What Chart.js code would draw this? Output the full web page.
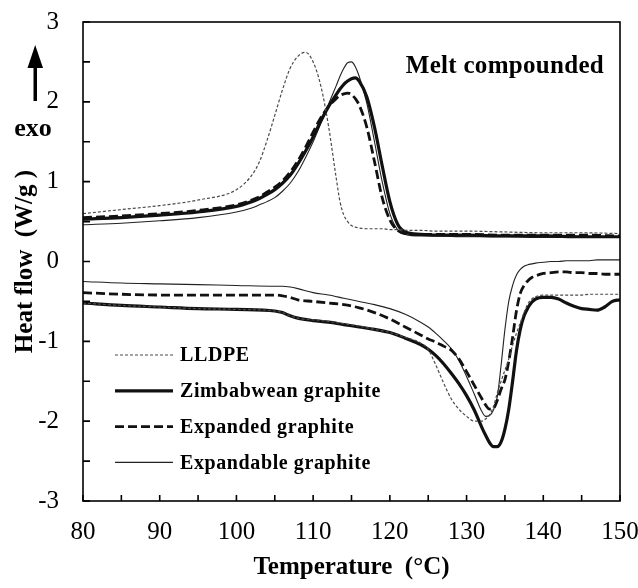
<!DOCTYPE html>
<html>
<head>
<meta charset="utf-8">
<script src="https://cdn.jsdelivr.net/npm/chart.js@4.4.1/dist/chart.umd.min.js"></script>
<style>
body{margin:0;background:#fff;}
#wrap{width:638px;height:588px;}
</style>
</head>
<body>
<div id="wrap"><canvas id="dsc" width="638" height="588"></canvas></div>
<script>
const names = ['LLDPE', 'Zimbabwean graphite', 'Expanded graphite', 'Expandable graphite'];

// cooling run (crystallisation, upper curves)
const tempCool = [80, 85, 90, 95, 100, 102, 103, 104, 105, 106, 107, 108, 109, 110, 111, 112, 113, 113.5, 114, 114.5, 115, 115.5, 116, 117, 118, 119, 120, 121, 122, 124, 126, 130, 135, 140, 145, 150];
const coolLLDPE = [0.60, 0.65, 0.70, 0.77, 0.90, 1.08, 1.25, 1.52, 1.83, 2.15, 2.42, 2.57, 2.62, 2.50, 2.20, 1.70, 1.05, 0.75, 0.58, 0.50, 0.45, 0.43, 0.42, 0.41, 0.41, 0.41, 0.40, 0.40, 0.39, 0.39, 0.38, 0.38, 0.37, 0.36, 0.36, 0.35];
const coolZimb = [0.53, 0.55, 0.58, 0.62, 0.69, 0.75, 0.79, 0.84, 0.90, 0.98, 1.08, 1.22, 1.38, 1.56, 1.76, 1.94, 2.09, 2.16, 2.22, 2.26, 2.29, 2.30, 2.26, 2.06, 1.68, 1.20, 0.75, 0.47, 0.37, 0.34, 0.33, 0.33, 0.32, 0.32, 0.31, 0.31];
const coolExpanded = [0.55, 0.57, 0.60, 0.64, 0.71, 0.77, 0.81, 0.87, 0.93, 1.01, 1.12, 1.26, 1.43, 1.62, 1.80, 1.94, 2.04, 2.08, 2.10, 2.11, 2.09, 2.04, 1.96, 1.68, 1.25, 0.80, 0.52, 0.39, 0.35, 0.34, 0.34, 0.34, 0.33, 0.33, 0.33, 0.32];
const coolExpandable = [0.46, 0.48, 0.51, 0.55, 0.62, 0.67, 0.71, 0.75, 0.80, 0.88, 0.98, 1.12, 1.30, 1.50, 1.73, 1.97, 2.20, 2.32, 2.42, 2.49, 2.50, 2.44, 2.32, 1.98, 1.50, 1.00, 0.60, 0.40, 0.34, 0.32, 0.32, 0.31, 0.31, 0.30, 0.30, 0.30];

// heating run (melting, lower curves)
const tempHeat = [80, 85, 90, 95, 100, 105, 106, 107, 108, 110, 112, 114, 116, 118, 120, 122, 124, 125, 126, 127, 128, 129, 130, 131, 132, 132.5, 133, 133.5, 134, 134.5, 135, 135.5, 136, 136.5, 137, 137.5, 138, 138.5, 139, 140, 141, 142, 143, 144, 145, 146, 147, 148, 149, 150];
const heatLLDPE = [-0.52, -0.55, -0.57, -0.59, -0.60, -0.62, -0.64, -0.68, -0.71, -0.73, -0.75, -0.78, -0.81, -0.85, -0.89, -0.95, -1.02, -1.10, -1.30, -1.52, -1.72, -1.85, -1.94, -2.00, -2.00, -1.97, -1.92, -1.82, -1.65, -1.50, -1.36, -1.22, -1.05, -0.90, -0.77, -0.64, -0.53, -0.47, -0.44, -0.42, -0.42, -0.42, -0.42, -0.42, -0.42, -0.41, -0.41, -0.41, -0.41, -0.41];
const heatZimb = [-0.52, -0.55, -0.57, -0.59, -0.60, -0.62, -0.64, -0.68, -0.71, -0.74, -0.76, -0.79, -0.82, -0.85, -0.89, -0.96, -1.04, -1.10, -1.18, -1.28, -1.40, -1.53, -1.68, -1.86, -2.08, -2.18, -2.27, -2.32, -2.32, -2.26, -2.10, -1.85, -1.50, -1.12, -0.85, -0.68, -0.58, -0.51, -0.47, -0.45, -0.45, -0.47, -0.52, -0.56, -0.59, -0.60, -0.61, -0.57, -0.50, -0.48];
const heatExpanded = [-0.39, -0.41, -0.42, -0.42, -0.42, -0.42, -0.43, -0.45, -0.48, -0.50, -0.52, -0.54, -0.58, -0.64, -0.72, -0.82, -0.92, -0.97, -1.01, -1.06, -1.11, -1.22, -1.38, -1.55, -1.72, -1.80, -1.85, -1.84, -1.74, -1.60, -1.48, -1.25, -0.95, -0.62, -0.40, -0.30, -0.24, -0.20, -0.18, -0.15, -0.14, -0.13, -0.13, -0.14, -0.14, -0.15, -0.15, -0.16, -0.16, -0.16];
const heatExpandable = [-0.25, -0.27, -0.28, -0.29, -0.30, -0.31, -0.31, -0.32, -0.34, -0.39, -0.42, -0.46, -0.50, -0.54, -0.59, -0.66, -0.76, -0.82, -0.90, -0.99, -1.09, -1.24, -1.44, -1.66, -1.88, -1.94, -1.93, -1.86, -1.70, -1.30, -0.85, -0.50, -0.30, -0.17, -0.10, -0.06, -0.04, -0.03, -0.02, -0.01, 0.00, 0.00, 0.01, 0.01, 0.01, 0.01, 0.02, 0.02, 0.02, 0.02];

const coolRuns = [coolLLDPE, coolZimb, coolExpanded, coolExpandable];
const heatRuns = [heatLLDPE, heatZimb, heatExpanded, heatExpandable];

// line look per material: LLDPE dotted, Zimbabwean thick, expanded thick dashed, expandable thin
const looks = [
    {color: '#4a4a4a', width: 1.2, dash: [3, 2]},
    {color: '#111111', width: 3.2, dash: []},
    {color: '#111111', width: 2.8, dash: [9, 4]},
    {color: '#222222', width: 1.1, dash: []}
];

const serif = "'Liberation Serif', 'Times New Roman', serif";

function makeSet(label, temps, vals, look){
    return {
        label: label,
        data: temps.map((t, k) => ({x: t, y: vals[k]})),
        borderColor: look.color,
        borderWidth: look.width,
        borderDash: look.dash,
        pointRadius: 0,
        fill: false,
        cubicInterpolationMode: 'monotone'
    };
}

let datasets = [];
names.forEach((n, i) => {
    datasets.push(makeSet(n, tempCool, coolRuns[i], looks[i]));
    datasets.push(makeSet(n, tempHeat, heatRuns[i], looks[i]));
});

// chart.js adds the tick padding to the layout padding, drop it
function noScalePad(s){
    s.paddingTop = 0;
    s.paddingBottom = 0;
    s.paddingLeft = 0;
    s.paddingRight = 0;
}

const decor = {
    id: 'decor',
    afterDatasetsDraw(chart){
        const {ctx, chartArea: a, scales} = chart;
        ctx.save();
        ctx.setLineDash([]);
        ctx.strokeStyle = '#000';
        ctx.lineWidth = 1.6;
        ctx.strokeRect(a.left, a.top, a.right - a.left, a.bottom - a.top);

        // ticks point inwards
        ctx.beginPath();
        scales.x.ticks.forEach(t => {
            let px = scales.x.getPixelForValue(t.value);
            ctx.moveTo(px, a.bottom);
            ctx.lineTo(px, a.bottom - 6);
        });
        scales.y.ticks.forEach(t => {
            let py = scales.y.getPixelForValue(t.value);
            ctx.moveTo(a.left, py);
            ctx.lineTo(a.left + 7, py);
        });
        ctx.stroke();

        // legend inside the plot
        ctx.font = 'bold 20px ' + serif;
        ctx.letterSpacing = '0.6px';
        ctx.fillStyle = '#000';
        ctx.textBaseline = 'middle';
        names.forEach((n, i) => {
            let ly = 355 + i * 35.8;
            ctx.strokeStyle = looks[i].color;
            ctx.lineWidth = looks[i].width;
            ctx.setLineDash(looks[i].dash);
            ctx.beginPath();
            ctx.moveTo(115, ly);
            ctx.lineTo(173, ly);
            ctx.stroke();
            ctx.fillText(n, 180, ly + 1);
        });
        ctx.setLineDash([]);

        ctx.font = 'bold 25px ' + serif;
        ctx.letterSpacing = '0.3px';
        ctx.textAlign = 'right';
        ctx.textBaseline = 'alphabetic';
        ctx.fillText('Melt compounded', 604, 73);

        // exo arrow
        ctx.letterSpacing = '0px';
        ctx.fillStyle = '#000';
        ctx.fillRect(33.5, 64, 3.5, 37);
        ctx.beginPath();
        ctx.moveTo(35.2, 45);
        ctx.lineTo(43, 68);
        ctx.lineTo(27.5, 68);
        ctx.closePath();
        ctx.fill();
        ctx.font = 'bold 26px ' + serif;
        ctx.textAlign = 'center';
        ctx.fillText('exo', 33, 136);
        ctx.restore();
    }
};

new Chart(document.getElementById('dsc'), {
    type: 'line',
    data: {datasets: datasets},
    options: {
        responsive: false,
        animation: false,
        devicePixelRatio: 1,
        layout: {padding: {top: 22, right: 18, left: 0, bottom: 0}},
        plugins: {legend: {display: false}, tooltip: {enabled: false}},
        scales: {
            x: {
                type: 'linear',
                min: 80, max: 150,
                grid: {display: false, drawTicks: false},
                border: {display: false},
                ticks: {
                    stepSize: 5,
                    padding: 16,
                    color: '#000',
                    font: {family: serif, size: 25},
                    maxRotation: 0,
                    autoSkip: false,
                    callback: v => v % 10 === 0 ? String(v) : ''
                },
                title: {display: true, text: 'Temperature  (°C)', color: '#000', font: {family: serif, size: 25, weight: 'bold'}, padding: {bottom: 5}},
                afterFit: s => { s.height = 87; noScalePad(s); }
            },
            y: {
                min: -3, max: 3,
                grid: {display: false, drawTicks: false},
                border: {display: false},
                ticks: {
                    stepSize: 0.5,
                    padding: 24,
                    color: '#000',
                    font: {family: serif, size: 25},
                    autoSkip: false,
                    callback: v => Number.isInteger(v) ? String(v) : ''
                },
                title: {display: true, text: 'Heat flow  (W/g )', color: '#000', font: {family: serif, size: 25, weight: 'bold'}, padding: {top: 11}},
                afterFit: s => { s.width = 83; noScalePad(s); }
            }
        }
    },
    plugins: [decor]
});
</script>
</body>
</html>
